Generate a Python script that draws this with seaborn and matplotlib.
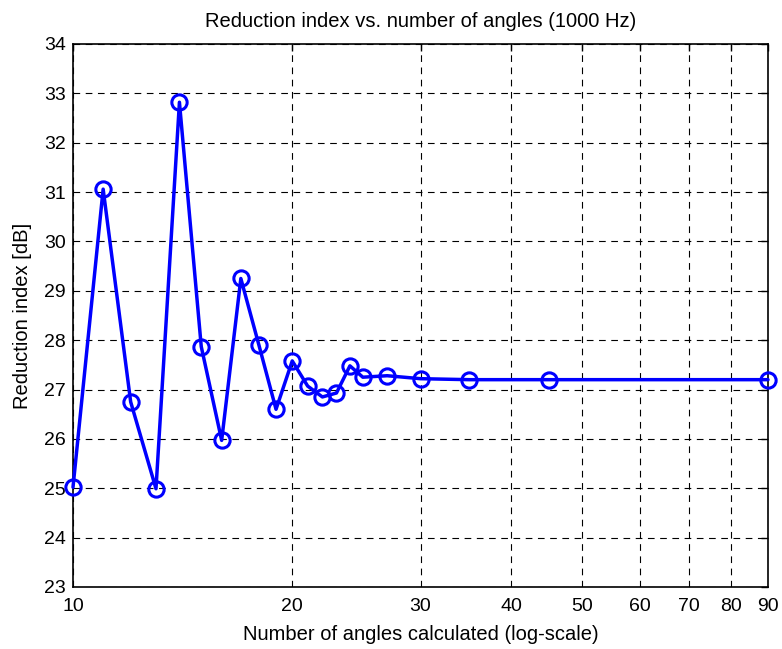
import numpy as np
import pandas as pd
import matplotlib
matplotlib.use('Agg')
import matplotlib.pyplot as plt
import seaborn as sns
from matplotlib.ticker import FixedLocator, NullLocator, FixedFormatter

# Data
n_angles = [10, 11, 12, 13, 14, 15, 16, 17, 18, 19, 20, 21, 22, 23, 24, 25, 27, 30, 35, 45, 90]
reduction_db = [25.02, 31.06, 26.75, 24.99, 32.82, 27.87, 25.97, 29.25, 27.9, 26.6, 27.58,
                27.07, 26.85, 26.93, 27.48, 27.25, 27.28, 27.22, 27.2, 27.2, 27.2]
x_ticks = [10, 20, 30, 40, 50, 60, 70, 80, 90]
y_ticks = list(range(23, 35))

df = pd.DataFrame({'angles': n_angles, 'R': reduction_db})

sns.set_style('white')
plt.rcParams['font.family'] = ['Liberation Sans', 'DejaVu Sans']
plt.rcParams['text.color'] = 'black'
plt.rcParams['axes.labelcolor'] = 'black'
plt.rcParams['xtick.color'] = 'black'
plt.rcParams['ytick.color'] = 'black'

fig = plt.figure(figsize=(7.82, 6.49), dpi=100)
ax = fig.add_axes([73 / 782, 1 - 587 / 649, 695 / 782, 543 / 649])

sns.lineplot(data=df, x='angles', y='R', ax=ax, color='blue', linewidth=2.5,
             marker='o', markersize=11, markerfacecolor='none',
             markeredgecolor='blue', markeredgewidth=2.2, clip_on=False, zorder=5)

ax.set_xscale('log')
ax.set_xlim(10, 90)
ax.set_ylim(23, 34)
ax.xaxis.set_major_locator(FixedLocator(x_ticks))
ax.xaxis.set_major_formatter(FixedFormatter([str(t) for t in x_ticks]))
ax.xaxis.set_minor_locator(NullLocator())
ax.set_yticks(y_ticks)

# MATLAB-like dashed grid, inward ticks on all four sides
ax.grid(True, color='black', linestyle=(0, (6, 5)), linewidth=0.8)
ax.tick_params(direction='in', length=5, width=1, labelsize=14, color='black',
               labelcolor='black', top=True, right=True)
ax.tick_params(axis='x', pad=8)
ax.tick_params(axis='y', pad=5)
for s in ax.spines.values():
    s.set_color('black')
    s.set_linewidth(1.2)

ax.set_xlabel('Number of angles calculated (log-scale)', fontsize=14.5, labelpad=7)
ax.set_ylabel('Reduction index [dB]', fontsize=14.5, labelpad=9)
ax.set_title('Reduction index vs. number of angles (1000 Hz)', fontsize=14.5, pad=12)

fig.savefig('out.png', dpi=100)
